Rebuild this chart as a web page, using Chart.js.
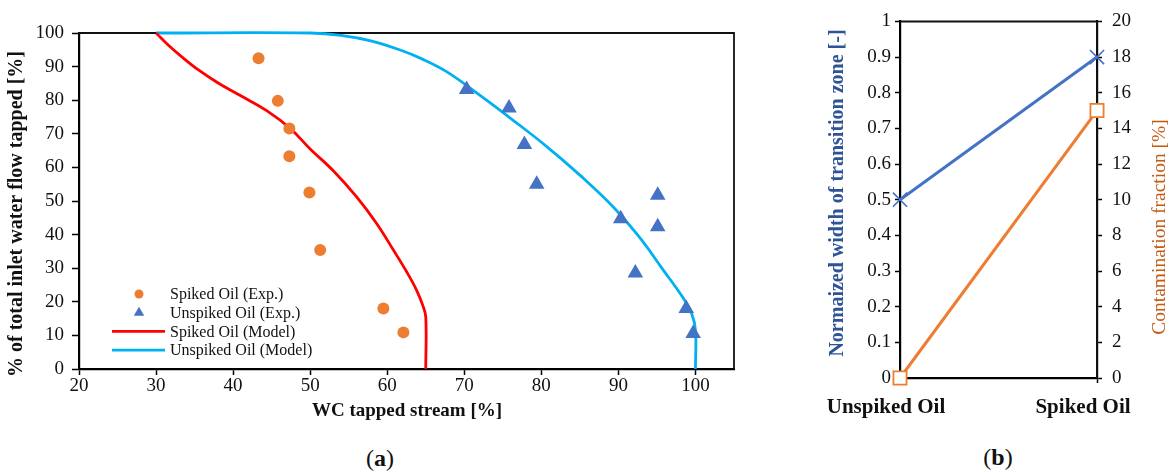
<!DOCTYPE html>
<html>
<head>
<meta charset="utf-8">
<script src="https://cdn.jsdelivr.net/npm/chart.js@4.4.1/dist/chart.umd.min.js"></script>
<style>
  html, body { margin: 0; padding: 0; background: #fff; }
  #wrap { position: relative; width: 1174px; height: 472px; overflow: hidden; }
  canvas { position: absolute; top: 0; }
  .cap { position: absolute; font-family: 'Liberation Serif', serif; font-size: 24px; color: #111;
         transform: translate(-50%, -50%); white-space: nowrap; }
</style>
</head>
<body>
<div id="wrap">
  <canvas id="tapChart" width="760" height="430" style="left:0;width:760px;height:430px"></canvas>
  <canvas id="zoneChart" width="404" height="430" style="left:770px;width:404px;height:430px"></canvas>
  <div class="cap" style="left:380px;top:458px">(<b>a</b>)</div>
  <div class="cap" style="left:998px;top:457px">(<b>b</b>)</div>
</div>
<script>
// ---- (a) tapped water fraction vs. water cut of the tapped stream ----
const spikedExpWC      = [43.3, 45.8, 47.3, 47.3, 49.9, 51.3, 59.5, 62.1];
const spikedExpTapped  = [92.5, 79.8, 71.6, 63.3, 52.5, 35.4, 18.0, 10.9];
const unspikedExpWC     = [70.3, 75.8, 77.8, 79.4, 95.1, 90.3, 95.1, 92.2, 98.8, 99.7];
const unspikedExpTapped = [83.2, 77.7, 66.8, 55.0, 51.7, 44.7, 42.3, 28.6, 18.0, 10.6];
const spikedModelWC      = [30, 31.5, 33.5, 35.5, 38, 41, 44.4, 47.4, 50, 53, 56, 58.6, 60.8, 62.5, 63.8, 64.6, 65, 65];
const spikedModelTapped  = [100, 96.6, 92.6, 89, 85.2, 81.3, 76.8, 71.6, 65.5, 59, 51.3, 43.4, 35.4, 29, 23.5, 19, 15.5, 0];
const unspikedModelWC     = [30, 50, 54, 58, 61.6, 64.5, 67.7, 72, 76.3, 80.7, 85, 89.3, 92.8, 95.8, 98.3, 99.5, 100, 100];
const unspikedModelTapped = [100, 100, 99.3, 97.6, 95, 92.3, 88.5, 81.5, 74.1, 66.2, 57.7, 48.3, 39, 29.5, 21.5, 16.5, 11.5, 0];
const wcTicks = [20, 30, 40, 50, 60, 70, 80, 90, 100];

// ---- (b) transition zone width and contamination per oil ----
const oilCategories = ['Unspiked Oil', 'Spiked Oil'];
const transitionWidth = [0.5, 0.9];
const contaminationPct = [0, 15];

const SERIF = "'Liberation Serif', 'Times New Roman', serif";
const pairs = (xs, ys) => xs.map((x, i) => ({ x, y: ys[i] }));

// axis titles drawn on top of each chart
function textLayer(items) {
  return {
    id: 'textLayer',
    afterDraw(chart) {
      const ctx = chart.ctx;
      for (const t of items) {
        ctx.save();
        ctx.translate(t.x, t.y);
        ctx.rotate(t.rotation || 0);
        ctx.font = t.font;
        ctx.fillStyle = t.color;
        ctx.textAlign = 'center';
        ctx.textBaseline = 'middle';
        ctx.fillText(t.text, 0, 0);
        ctx.restore();
      }
    }
  };
}

// closes the plot box on the top and right sides
function plotFrame(color, width) {
  return {
    id: 'plotFrame',
    beforeDatasetsDraw(chart) {
      const { ctx, chartArea: a } = chart;
      ctx.save();
      ctx.strokeStyle = color;
      ctx.lineWidth = width;
      ctx.beginPath();
      ctx.moveTo(a.left, a.top);
      ctx.lineTo(a.right, a.top);
      ctx.lineTo(a.right, a.bottom);
      ctx.stroke();
      ctx.restore();
    }
  };
}

// legend placed inside the plot, lower left
const insideLegend = {
  id: 'insideLegend',
  afterDatasetsDraw(chart) {
    const { ctx, chartArea: a } = chart;
    const x0 = a.left + 60, lineL = a.left + 33, lineR = a.left + 86, textX = a.left + 91;
    let y = a.bottom - 75;
    chart.data.datasets.forEach(ds => {
      ctx.save();
      if (ds.showLine) {
        ctx.strokeStyle = ds.borderColor;
        ctx.lineWidth = ds.borderWidth;
        ctx.beginPath();
        ctx.moveTo(lineL, y);
        ctx.lineTo(lineR, y);
        ctx.stroke();
      } else {
        ctx.fillStyle = ds.backgroundColor;
        ctx.strokeStyle = ds.borderColor;
        Chart.helpers.drawPoint(ctx, {
          pointStyle: ds.pointStyle,
          radius: ds.pointStyle === 'triangle' ? 6 : 4.5,
          rotation: 0,
          borderWidth: 0
        }, x0, y);
      }
      ctx.font = '16px ' + SERIF;
      ctx.fillStyle = '#111';
      ctx.textAlign = 'left';
      ctx.textBaseline = 'middle';
      ctx.fillText(ds.label, textX, y + 1);
      ctx.restore();
      y += 18.7;
    });
  }
};

new Chart(document.getElementById('tapChart'), {
  type: 'scatter',
  data: {
    datasets: [
      {
        label: 'Spiked Oil (Exp.)',
        data: pairs(spikedExpWC, spikedExpTapped),
        pointStyle: 'circle', pointRadius: 6,
        backgroundColor: '#ED7D31', borderColor: '#ED7D31', borderWidth: 0,
        showLine: false, order: 1
      },
      {
        label: 'Unspiked Oil (Exp.)',
        data: pairs(unspikedExpWC, unspikedExpTapped),
        pointStyle: 'triangle', pointRadius: 9,
        backgroundColor: '#4472C4', borderColor: '#4472C4', borderWidth: 0,
        showLine: false, order: 1
      },
      {
        label: 'Spiked Oil (Model)',
        data: pairs(spikedModelWC, spikedModelTapped),
        showLine: true, borderColor: '#FF0000', backgroundColor: '#FF0000',
        borderWidth: 2.8, pointRadius: 0, tension: 0.4, capBezierPoints: false,
        clip: false, order: 2
      },
      {
        label: 'Unspiked Oil (Model)',
        data: pairs(unspikedModelWC, unspikedModelTapped),
        showLine: true, borderColor: '#00B0F0', backgroundColor: '#00B0F0',
        borderWidth: 2.8, pointRadius: 0, tension: 0.4, capBezierPoints: false,
        clip: false, order: 2
      }
    ]
  },
  options: {
    responsive: false,
    animation: false,
    layout: { padding: { top: 33, right: 26, left: 0, bottom: 0 } },
    plugins: { legend: { display: false }, tooltip: { enabled: false } },
    scales: {
      x: {
        type: 'linear', min: 20, max: 105,
        afterBuildTicks: s => { s.ticks = wcTicks.map(v => ({ value: v })); },
        afterFit: s => { s.height = 61; },
        ticks: { font: { family: SERIF, size: 19 }, color: '#111', padding: 0, maxRotation: 0 },
        grid: { drawOnChartArea: false, drawTicks: true, tickLength: 6, tickColor: '#000', tickWidth: 1.5 },
        border: { display: true, color: '#000', width: 2.2 }
      },
      y: {
        min: 0, max: 100,
        ticks: { stepSize: 10, font: { family: SERIF, size: 19 }, color: '#111', padding: 8 },
        afterFit: s => { s.width = 79; },
        grid: { drawOnChartArea: false, drawTicks: true, tickLength: 7, tickColor: '#000', tickWidth: 1.5 },
        border: { display: true, color: '#000', width: 2.2 }
      }
    }
  },
  plugins: [
    plotFrame('#111', 1.8),
    insideLegend,
    textLayer([
      { text: '% of total inlet water flow tapped [%]', x: 17, y: 214, rotation: -Math.PI / 2,
        font: 'bold 20px ' + SERIF, color: '#111' },
      { text: 'WC tapped stream [%]', x: 407, y: 411, font: 'bold 19px ' + SERIF, color: '#111' }
    ])
  ]
});

new Chart(document.getElementById('zoneChart'), {
  type: 'line',
  data: {
    labels: oilCategories,
    datasets: [
      {
        label: 'Normalized width of transition zone',
        data: transitionWidth,
        yAxisID: 'yWidth',
        borderColor: '#4472C4', borderWidth: 3,
        pointStyle: 'crossRot', pointRadius: 10, pointBorderWidth: 1.6,
        pointBorderColor: '#4472C4', pointBackgroundColor: '#4472C4',
        clip: false
      },
      {
        label: 'Contamination fraction',
        data: contaminationPct,
        yAxisID: 'yContam',
        borderColor: '#ED7D31', borderWidth: 3,
        pointStyle: 'rect', pointRadius: 9.3, pointBorderWidth: 1.8,
        pointBorderColor: '#ED7D31', pointBackgroundColor: '#FFFFFF',
        clip: false
      }
    ]
  },
  options: {
    responsive: false,
    animation: false,
    layout: { padding: { top: 18, right: 0, left: 0, bottom: 0 } },
    plugins: { legend: { display: false }, tooltip: { enabled: false } },
    scales: {
      x: {
        offset: false,
        afterFit: s => { s.height = 52; },
        ticks: { font: { family: SERIF, size: 21, weight: 'bold' }, color: '#111', padding: 12,
                 labelOffset: -14, maxRotation: 0, autoSkip: false },
        grid: { drawOnChartArea: false, drawTicks: true, tickLength: 5, tickColor: '#000', tickWidth: 1.5 },
        border: { display: true, color: '#000', width: 2.2 }
      },
      yWidth: {
        position: 'left', min: 0, max: 1,
        afterFit: s => { s.width = 130; },
        ticks: { stepSize: 0.1, font: { family: SERIF, size: 19 }, color: '#111', padding: 4,
                 callback: v => String(+Number(v).toFixed(1)) },
        grid: { drawOnChartArea: false, drawTicks: true, tickLength: 5, tickColor: '#000', tickWidth: 1.5 },
        border: { display: true, color: '#000', width: 2.2 }
      },
      yContam: {
        position: 'right', min: 0, max: 20,
        afterFit: s => { s.width = 77; },
        ticks: { stepSize: 2, font: { family: SERIF, size: 19 }, color: '#111', padding: 10 },
        grid: { drawOnChartArea: false, drawTicks: true, tickLength: 5, tickColor: '#000', tickWidth: 1.5 },
        border: { display: true, color: '#000', width: 2.2 }
      }
    }
  },
  plugins: [
    plotFrame('#111', 2),
    textLayer([
      { text: 'Normaized width of transition zone [-]', x: 68, y: 193, rotation: -Math.PI / 2,
        font: 'bold 20px ' + SERIF, color: '#2F5496' },
      { text: 'Contamination fraction [%]', x: 390, y: 227, rotation: -Math.PI / 2,
        font: '19.5px ' + SERIF, color: '#C55A11' }
    ])
  ]
});
</script>
</body>
</html>
